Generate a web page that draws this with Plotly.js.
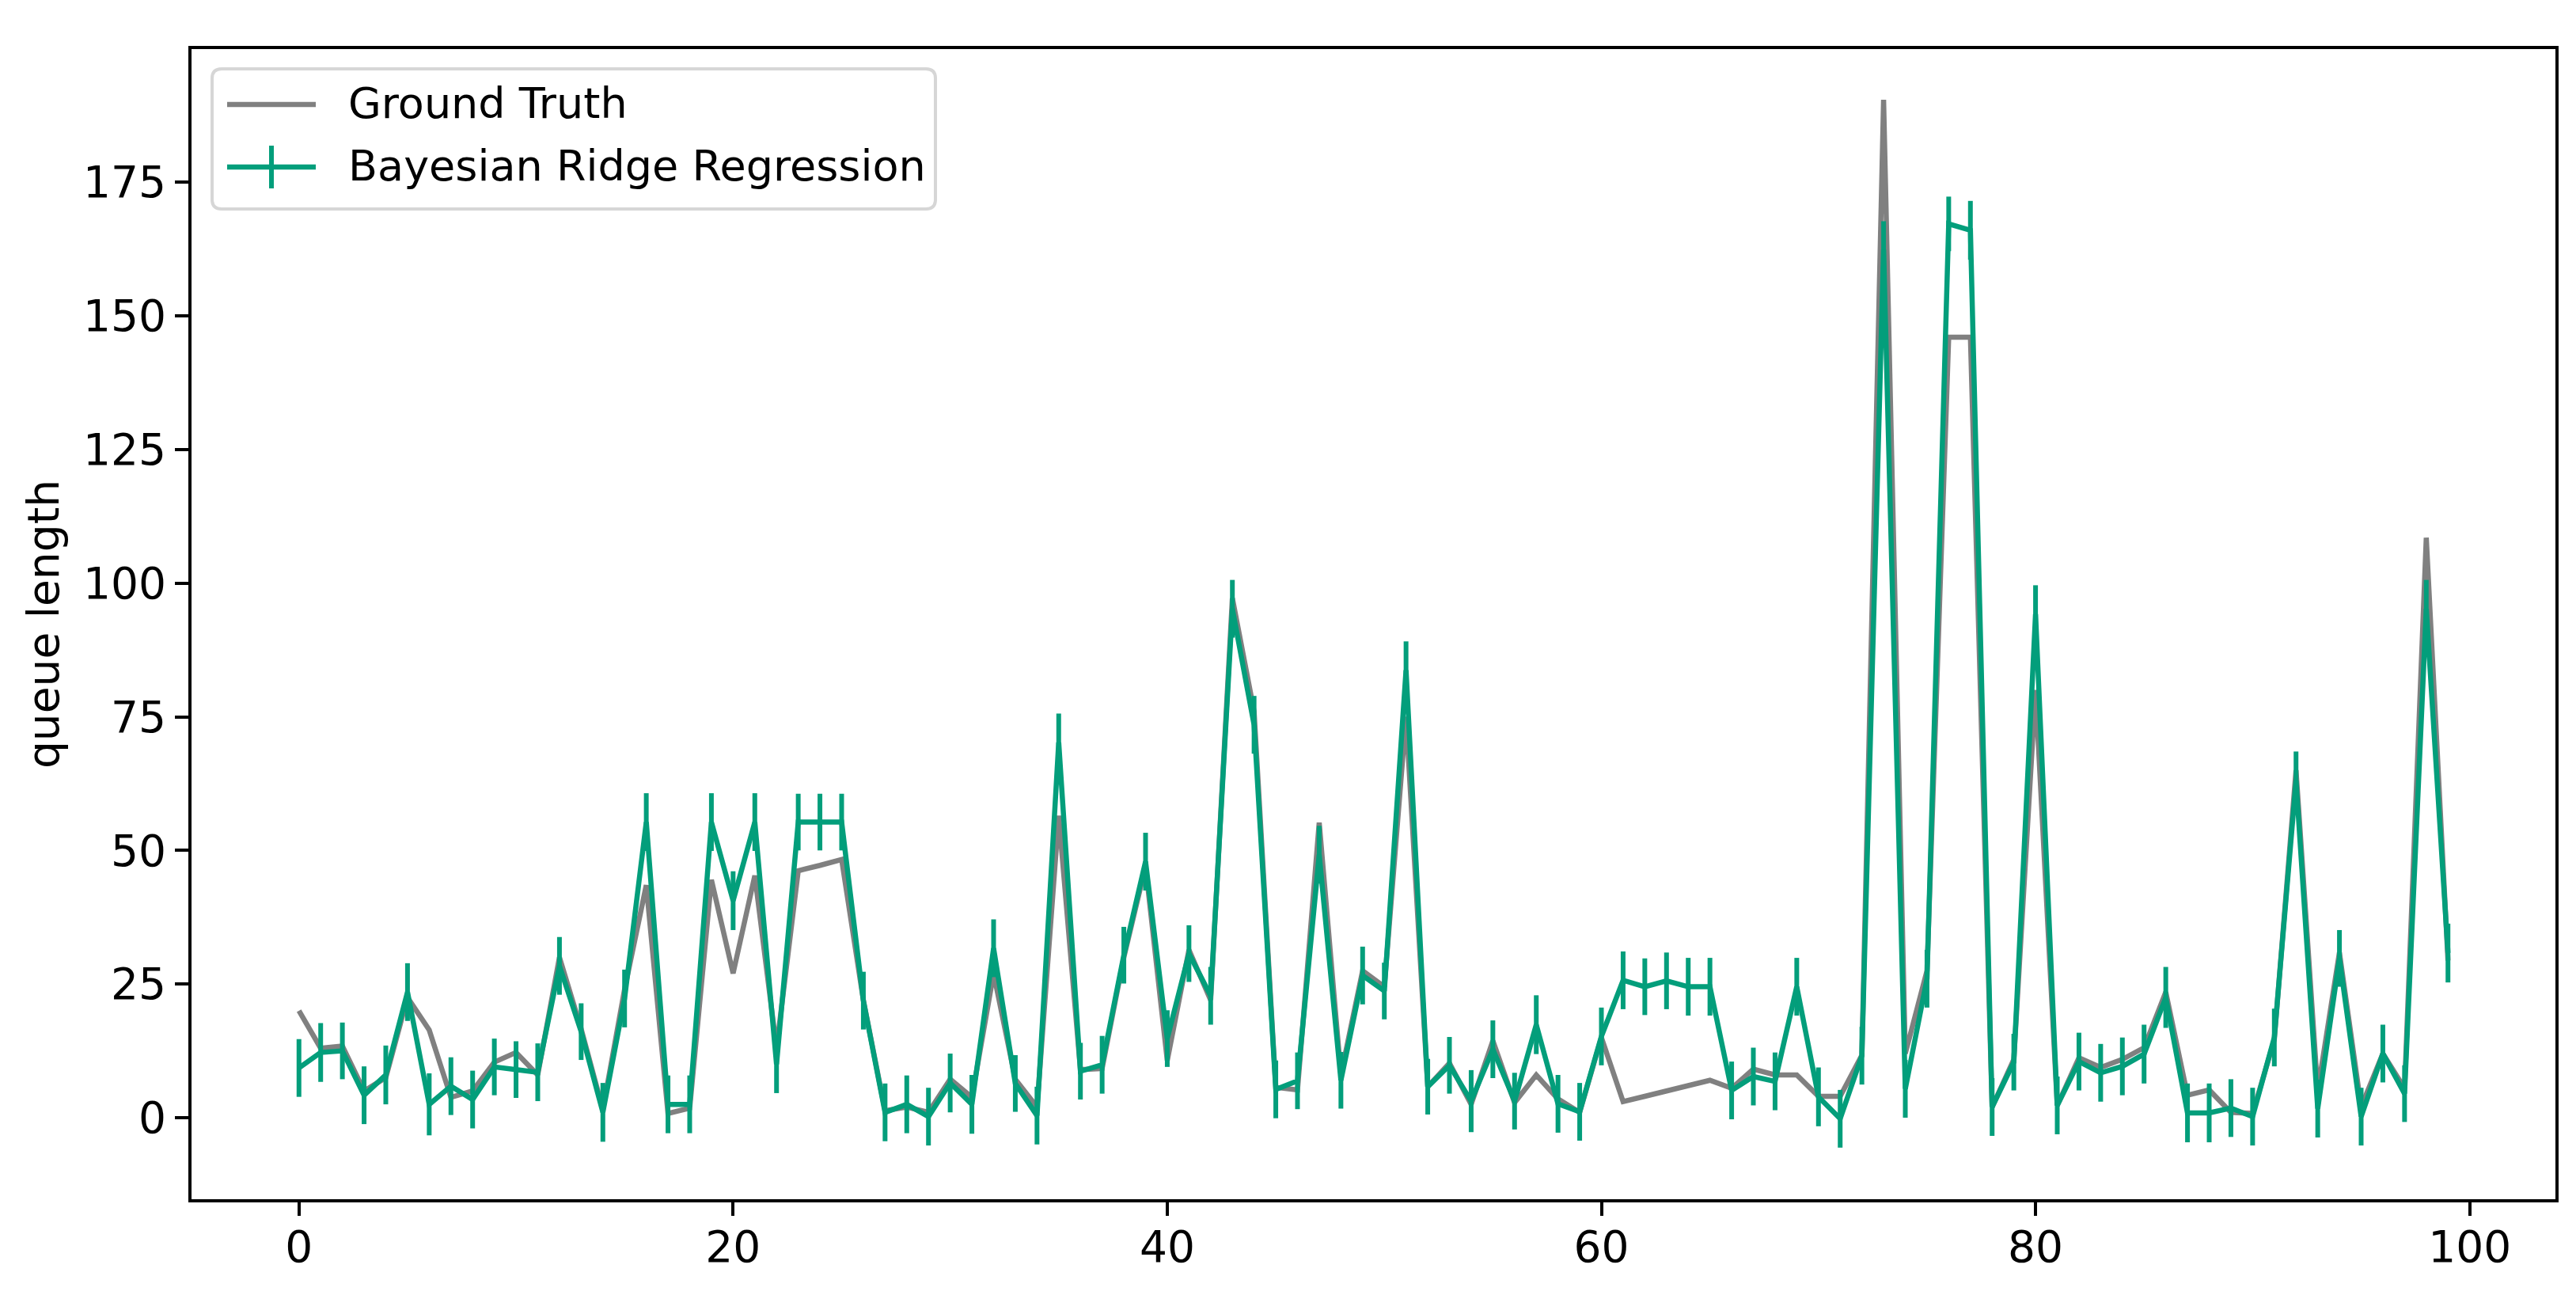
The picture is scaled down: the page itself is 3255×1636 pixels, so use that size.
<!DOCTYPE html>
<html>
<head>
<meta charset="utf-8">
<script src="https://cdn.plot.ly/plotly-3.0.1.min.js"></script>
<style>
  html, body { margin: 0; padding: 0; background: #ffffff; }
  #chart { width: 3255px; height: 1636px; }
</style>
</head>
<body>
<div id="chart"></div>
<script>
// ---- data ----
const sampleIndex = [
  0,1,2,3,4,5,6,7,8,9,10,11,12,13,14,15,16,17,18,19,
  20,21,22,23,24,25,26,27,28,29,30,31,32,33,34,35,36,37,38,39,
  40,41,42,43,44,45,46,47,48,49,50,51,52,53,54,55,56,57,58,59,
  60,61,62,63,64,65,66,67,68,69,70,71,72,73,74,75,76,77,78,79,
  80,81,82,83,84,85,86,87,88,89,90,91,92,93,94,95,96,97,98,99
];

const groundTruth = [
  20, 13, 13.4, 5, 7.5, 22.5, 16.4, 3.8, 5, 10.4,
  12.2, 8, 30, 16.6, 1.5, 24, 43.5, 0.8, 1.8, 44.5,
  27, 45.3, 13, 46.2, 47.2, 48.3, 22, 1.3, 2, 1,
  7.2, 3.8, 27, 7.2, 2, 56.5, 9, 9.2, 30, 47,
  10.7, 31.4, 22, 97.2, 76, 5.7, 5.2, 55.2, 8, 27.5,
  24.5, 75, 5.8, 10.2, 2.5, 14.4, 2.8, 8, 3.5, 1,
  15, 3, 4, 5, 6, 7, 5.5, 9.1, 8, 8,
  4, 4, 11.7, 190.4, 12, 27.5, 146, 146, 2, 10.9,
  80, 2.3, 11.2, 9.4, 10.9, 13.1, 23.5, 4.2, 5.2, 1,
  0.8, 14.6, 65, 5, 30.9, 2, 12, 5.5, 108.5, 29.4
];

const bayesianRidge = [
  9.3, 12.2, 12.5, 4.2, 8, 23.5, 2.5, 5.9, 3.4, 9.5,
  9, 8.5, 28.4, 16.1, 1, 22.3, 55.3, 2.5, 2.5, 55.3,
  40.6, 55.3, 10, 55.3, 55.3, 55.3, 21.9, 1, 2.5, 0.2,
  6.5, 2.5, 31.7, 6.4, 0.4, 70.2, 8.7, 9.9, 30.4, 47.9,
  14.8, 30.7, 22.8, 95.2, 73.5, 5.3, 6.9, 49.2, 7, 26.6,
  23.7, 83.7, 5.8, 9.8, 3.1, 12.8, 3.1, 17.4, 2.6, 1.1,
  15.2, 25.7, 24.5, 25.6, 24.5, 24.5, 5.1, 7.7, 6.8, 24.5,
  3.9, -0.2, 11.6, 162.4, 5.4, 26, 167.2, 166, 2, 10.4,
  94.2, 2.3, 10.5, 8.4, 9.6, 11.9, 22.5, 0.9, 0.9, 1.8,
  0.2, 15, 63.1, 1.7, 29.8, 0.2, 12, 4.5, 95.2, 30.8
];

const bayesianStd = [
  5.4, 5.5, 5.3, 5.4, 5.5, 5.4, 5.8, 5.4, 5.4, 5.3,
  5.3, 5.4, 5.4, 5.3, 5.5, 5.4, 5.4, 5.4, 5.4, 5.4,
  5.5, 5.4, 5.4, 5.3, 5.3, 5.3, 5.4, 5.4, 5.4, 5.4,
  5.5, 5.5, 5.4, 5.3, 5.4, 5.4, 5.3, 5.4, 5.3, 5.4,
  5.3, 5.3, 5.4, 5.4, 5.4, 5.4, 5.3, 5.4, 5.3, 5.4,
  5.3, 5.4, 5.2, 5.3, 5.8, 5.4, 5.3, 5.5, 5.4, 5.4,
  5.4, 5.4, 5.3, 5.3, 5.4, 5.4, 5.4, 5.4, 5.4, 5.4,
  5.5, 5.4, 5.4, 5.3, 5.4, 5.4, 5.1, 5.5, 5.4, 5.3,
  5.4, 5.4, 5.4, 5.4, 5.4, 5.5, 5.7, 5.5, 5.5, 5.4,
  5.4, 5.4, 5.4, 5.4, 5.3, 5.4, 5.4, 5.3, 5.4, 5.5
];

const xTickValues = [0, 20, 40, 60, 80, 100];
const yTickValues = [0, 25, 50, 75, 100, 125, 150, 175];

const seriesNames = ['Ground Truth', 'Bayesian Ridge Regression'];
const yAxisLabel = 'queue length';

// ---- styling ----
const GREY = '#808080';
const GREEN = '#039E7B';
const FONT = 'DejaVu Sans, Liberation Sans, sans-serif';

const W = 3255, H = 1636;
const M = { l: 242, r: 26, t: 62, b: 121 };
const plotW = W - M.l - M.r;
const plotH = H - M.t - M.b;
// pixel -> paper helpers (for the legend box drawn in paper space)
const px = v => (v - M.l) / plotW;
const py = v => (H - M.b - v) / plotH;

const traces = [
  {
    x: sampleIndex,
    y: groundTruth,
    type: 'scatter',
    mode: 'lines',
    name: seriesNames[0],
    line: { color: GREY, width: 6.5 }
  },
  {
    x: sampleIndex,
    y: bayesianRidge,
    type: 'scatter',
    mode: 'lines',
    name: seriesNames[1],
    line: { color: GREEN, width: 6.5 },
    error_y: {
      type: 'data',
      array: bayesianStd,
      visible: true,
      color: GREEN,
      thickness: 6,
      width: 0
    }
  }
];

// ---- legend (matplotlib style: rounded frame, line + errorbar sample) ----
const lg = { x0: 268, x1: 1182, y0: 87, y1: 264, r: 12 };
const rx = lg.r / plotW, ry = lg.r / plotH;
const X0 = px(lg.x0), X1 = px(lg.x1), Y0 = py(lg.y1), Y1 = py(lg.y0);
const framePath =
  `M${X0 + rx},${Y0} L${X1 - rx},${Y0} Q${X1},${Y0} ${X1},${Y0 + ry} ` +
  `L${X1},${Y1 - ry} Q${X1},${Y1} ${X1 - rx},${Y1} ` +
  `L${X0 + rx},${Y1} Q${X0},${Y1} ${X0},${Y1 - ry} ` +
  `L${X0},${Y0 + ry} Q${X0},${Y0} ${X0 + rx},${Y0} Z`;

const rowY = [132, 211];
const sample = { x0: 287, x1: 399 };
const textX = 438;

const shapes = [
  { type: 'path', xref: 'paper', yref: 'paper', path: framePath,
    fillcolor: 'rgba(255,255,255,0.8)', line: { color: '#d6d6d6', width: 4 }, layer: 'above' },
  { type: 'line', xref: 'paper', yref: 'paper',
    x0: px(sample.x0), x1: px(sample.x1), y0: py(rowY[0]), y1: py(rowY[0]),
    line: { color: GREY, width: 6.5 }, layer: 'above' },
  { type: 'line', xref: 'paper', yref: 'paper',
    x0: px(sample.x0), x1: px(sample.x1), y0: py(rowY[1]), y1: py(rowY[1]),
    line: { color: GREEN, width: 6.5 }, layer: 'above' },
  { type: 'line', xref: 'paper', yref: 'paper',
    x0: px((sample.x0 + sample.x1) / 2), x1: px((sample.x0 + sample.x1) / 2),
    y0: py(rowY[1] - 27), y1: py(rowY[1] + 27),
    line: { color: GREEN, width: 6 }, layer: 'above' }
];

const annotations = seriesNames.map((name, i) => ({
  xref: 'paper', yref: 'paper',
  x: px(textX), y: py(rowY[i] - 2),
  xanchor: 'left', yanchor: 'middle',
  text: name, showarrow: false,
  font: { family: FONT, size: 54, color: '#000000' }
}));

const axisCommon = {
  showline: true,
  mirror: true,
  linecolor: '#000000',
  linewidth: 4,
  showgrid: false,
  zeroline: false,
  ticks: 'outside',
  ticklen: 17,
  tickwidth: 4,
  tickcolor: '#000000',
  tickfont: { family: FONT, size: 55, color: '#000000' }
};

const layout = {
  width: W,
  height: H,
  paper_bgcolor: '#ffffff',
  plot_bgcolor: '#ffffff',
  margin: { l: M.l, r: M.r, t: M.t, b: M.b, pad: 0 },
  font: { family: FONT, size: 55, color: '#000000' },
  showlegend: false,
  shapes: shapes,
  annotations: annotations,
  xaxis: Object.assign({}, axisCommon, {
    range: [-4.95, 103.95],
    tickmode: 'array',
    tickvals: xTickValues,
    ticktext: xTickValues.map(String),
    ticklabelstandoff: -8
  }),
  yaxis: Object.assign({}, axisCommon, {
    range: [-15.25, 199.9],
    tickmode: 'array',
    tickvals: yTickValues,
    ticktext: yTickValues.map(String),
    title: { text: yAxisLabel, font: { family: FONT, size: 55, color: '#000000' }, standoff: 14 }
  })
};

Plotly.newPlot('chart', traces, layout, { staticPlot: true, displayModeBar: false });
</script>
</body>
</html>
